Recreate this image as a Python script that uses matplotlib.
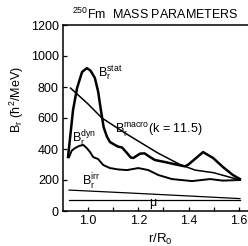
import numpy as np
import matplotlib.pyplot as plt

plt.rcParams['font.family'] = ['Liberation Sans', 'DejaVu Sans']
plt.rcParams['mathtext.fontset'] = 'custom'
plt.rcParams['mathtext.rm'] = 'Liberation Sans'
plt.rcParams['mathtext.it'] = 'Liberation Sans'

# B_r^stat
r_stat = [0.92, 0.93, 0.94, 0.956, 0.976, 0.995, 1.01, 1.027, 1.04, 1.052,
          1.062, 1.075, 1.087, 1.107, 1.12, 1.135, 1.155, 1.17, 1.18, 1.207,
          1.225, 1.24, 1.266, 1.306, 1.358, 1.386, 1.40, 1.458, 1.498, 1.537,
          1.577, 1.605]
b_stat = [348, 500, 651, 793, 897, 922, 905, 858, 770, 640,
          540, 480, 445, 426, 415, 410, 374, 345, 342, 370,
          372, 355, 329, 316, 297, 288, 300, 380, 342, 284,
          232, 206]

# B_r^dyn
r_dyn = [0.924, 0.935, 0.948, 0.965, 0.981, 0.995, 1.008, 1.02, 1.04, 1.06,
         1.087, 1.12, 1.155, 1.2, 1.24, 1.28, 1.334, 1.414, 1.486, 1.537, 1.605]
b_dyn = [348, 390, 406, 420, 426, 405, 380, 348, 335, 297,
         277, 268, 264, 277, 264, 232, 206, 193, 206, 196, 200]

# B_r^macro (k = 11.5)
r_macro = [0.93, 1.0, 1.055, 1.147, 1.278, 1.366, 1.426, 1.5, 1.605]
b_macro = [793, 690, 600, 503, 374, 300, 264, 247, 200]

# B_r^irr and mu
r_irr = [0.924, 1.167, 1.4, 1.605]
b_irr = [135, 116, 97, 80]
r_mu = [0.924, 1.605]
b_mu = [70, 70]

fig = plt.figure(figsize=(2.48, 2.46), dpi=100)
ax = fig.add_axes([63/248, 1-211/246, 188/248, 186/246])

ax.plot(r_stat, b_stat, color='black', lw=1.8)
ax.plot(r_dyn, b_dyn, color='black', lw=1.4)
ax.plot(r_macro, b_macro, color='black', lw=1.1)
ax.plot(r_irr, b_irr, color='black', lw=0.9)
ax.plot(r_mu, b_mu, color='black', lw=0.9)

ax.set_xlim(0.9, 1.649)
ax.set_ylim(0, 1200)
ax.set_xticks([1.0, 1.2, 1.4, 1.6])
ax.set_xticks([1.1, 1.3, 1.5], minor=True)
ax.set_yticks(np.arange(0, 1201, 200))
ax.tick_params(direction='in', labelsize=9, length=3, width=0.9, pad=3)
ax.tick_params(which='minor', direction='in', length=3, width=0.9)
ax.spines['right'].set_visible(False)
for s in ['left', 'bottom', 'top']:
    ax.spines[s].set_linewidth(1.1)

fs = 9
ax.text(1.039, 890, r'B$_\mathrm{r}^\mathrm{stat}$', fontsize=fs, ha='left', va='center')
ax.text(0.936, 477, r'B$_\mathrm{r}^\mathrm{dyn}$', fontsize=fs, ha='left', va='center')
ax.text(1.107, 529, r'B$_\mathrm{r}^\mathrm{macro}$(k = 11.5)', fontsize=fs, ha='left', va='center')
ax.text(0.976, 187, r'B$_\mathrm{r}^\mathrm{irr}$', fontsize=fs, ha='left', va='center')
ax.text(1.259, 45, r'$\mu$', fontsize=fs, ha='center', va='center')

fig.text(155/248, 1-14/246, r'$^{250}$Fm  MASS PARAMETERS', fontsize=9, ha='center', va='center')
fig.text(17/248, 1-100/246, r'B$_\mathrm{r}$ ($\hbar^2$/MeV)', fontsize=9, rotation=90,
         ha='center', va='center')
fig.text(160/248, 1-239/246, r'r/R$_0$', fontsize=9.5, ha='center', va='center')

fig.savefig('out.png', dpi=100)
